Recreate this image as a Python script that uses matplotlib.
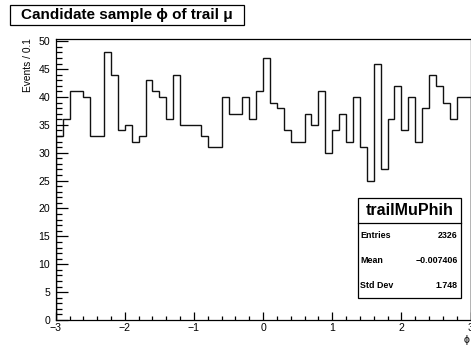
import numpy as np
import matplotlib
matplotlib.use("Agg")
import matplotlib.pyplot as plt
from matplotlib.patches import Rectangle
from matplotlib.lines import Line2D
from matplotlib.ticker import MultipleLocator

plt.rcParams['font.family'] = ['Liberation Sans', 'DejaVu Sans']

# phi of the trailing muon, 60 bins of 0.1 between -3 and 3
counts = [33, 36, 41, 41, 40, 33, 33, 48, 44, 34,
          35, 32, 33, 43, 41, 40, 36, 44, 35, 35,
          35, 33, 31, 31, 40, 37, 37, 40, 36, 41,
          47, 39, 38, 34, 32, 32, 37, 35, 41, 30,
          34, 37, 32, 40, 31, 25, 46, 27, 36, 42,
          34, 40, 32, 38, 44, 42, 39, 36, 40, 40]
x_lo, x_hi = -3.0, 3.0
hist_name = "trailMuPhih"
stat_names = ["Entries", "Mean", "Std Dev"]
stat_values = ["2326", "\u22120.007406", "1.748"]

edges = np.linspace(x_lo, x_hi, len(counts) + 1)

fig = plt.figure(figsize=(4.71, 3.46), dpi=100)
W, H = 471, 346
ax = fig.add_axes([55.7 / W, 1 - 320 / H, (470.5 - 55.7) / W, (320 - 39) / H])

ax.stairs(counts, edges, color='#111111', linewidth=1.0)
ax.set_xlim(x_lo, x_hi)
ax.set_ylim(0, 50.4)

ax.xaxis.set_major_locator(MultipleLocator(1))
ax.xaxis.set_minor_locator(MultipleLocator(0.2))
ax.yaxis.set_major_locator(MultipleLocator(5))
ax.yaxis.set_minor_locator(MultipleLocator(1))
ax.tick_params(which='both', direction='in', top=False, right=False,
               labelsize=7.6, width=0.9)
ax.tick_params(axis='x', which='major', length=6.0, pad=2.5)
ax.tick_params(axis='x', which='minor', length=3.0)
ax.tick_params(axis='y', which='major', length=8.9, pad=4)
ax.tick_params(axis='y', which='minor', length=4.0)
for s in ax.spines.values():
    s.set_linewidth(0.9)

# axis titles, ROOT style
fig.text(28 / W, 1 - 38 / H, "Events / 0.1", rotation=90, ha='center',
         va='top', fontsize=7.3)
fig.text(467 / W, 1 - 340 / H, "\u03d5", ha='center', va='center',
         fontsize=7.6)

# title box
fig.add_artist(Rectangle((9.7 / W, 1 - 25 / H), (244 - 9.7) / W, 20.3 / H,
                         transform=fig.transFigure, fc='white', ec='black',
                         lw=0.9))
fig.text(127 / W, 1 - 15 / H, "Candidate sample \u03d5 of trail \u03bc",
         ha='center', va='center', fontsize=11, fontweight='bold')

# stats box
bx0, bx1, by0, by1, bsep = 357.5, 461, 197.5, 298, 223
fig.add_artist(Rectangle((bx0 / W, 1 - by1 / H), (bx1 - bx0) / W,
                         (by1 - by0) / H, transform=fig.transFigure,
                         fc='white', ec='black', lw=0.9, zorder=5))
fig.add_artist(Line2D([bx0 / W, bx1 / W], [1 - bsep / H, 1 - bsep / H],
                      transform=fig.transFigure, color='black', lw=0.9,
                      zorder=6))
fig.text((bx0 + bx1) / 2 / W, 1 - (by0 + bsep) / 2 / H, hist_name,
         ha='center', va='center', fontsize=11.5, fontweight='bold', zorder=7)
row_h = (by1 - bsep) / len(stat_names)
for i, (name, val) in enumerate(zip(stat_names, stat_values)):
    yc = 1 - (bsep + row_h * (i + 0.5)) / H
    fig.text(360 / W, yc, name, ha='left', va='center', fontsize=6.4,
             fontweight='bold', zorder=7)
    fig.text(457.5 / W, yc, val, ha='right', va='center', fontsize=6.4,
             fontweight='bold', zorder=7)

fig.savefig("out.png", dpi=100)
